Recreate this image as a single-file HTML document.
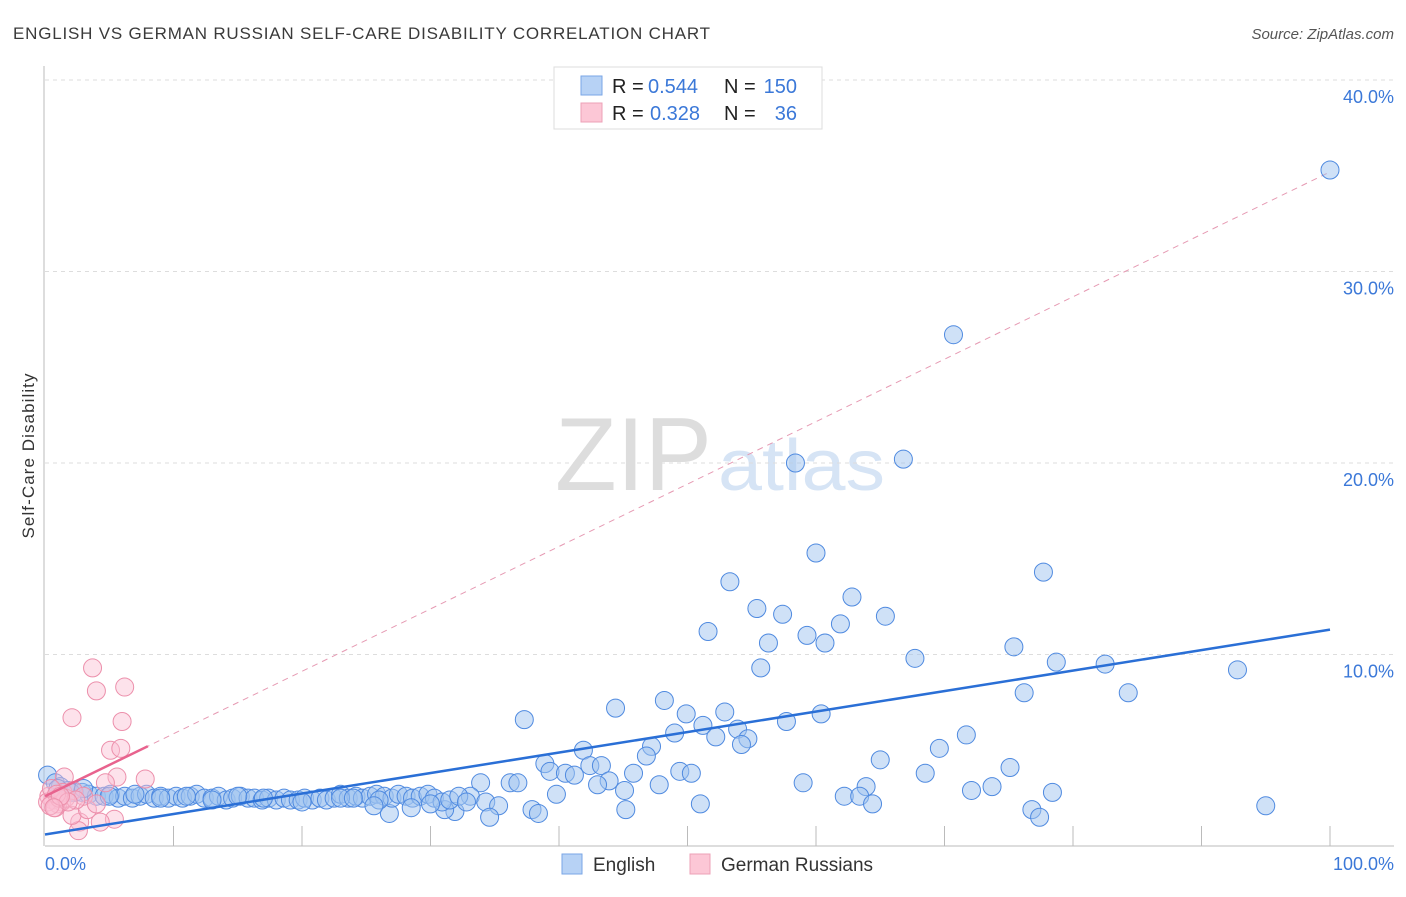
<!DOCTYPE html>
<html><head><meta charset="utf-8"><style>
body{margin:0;background:#fff;font-family:"Liberation Sans",sans-serif}
svg text{font-family:"Liberation Sans",sans-serif}
</style></head><body>
<svg id="chart" width="1406" height="892" xmlns="http://www.w3.org/2000/svg">
<text x="13" y="39" font-size="17" fill="#3a3a3a" textLength="697" lengthAdjust="spacing">ENGLISH VS GERMAN RUSSIAN SELF-CARE DISABILITY CORRELATION CHART</text>
<text x="1394" y="39" font-size="15" fill="#555" text-anchor="end" font-style="italic">Source: ZipAtlas.com</text>
<text x="555" y="490" font-size="104" fill="#ddd" font-family="Liberation Serif" textLength="157" lengthAdjust="spacingAndGlyphs">ZIP</text>
<text x="718" y="490" font-size="72" fill="#d6e4f5" textLength="167" lengthAdjust="spacingAndGlyphs">atlas</text>
<g id="grid"></g>
<g id="axes"></g>
<g id="lines"></g>
<g id="pts"></g>
<text transform="translate(34,456) rotate(-90)" font-size="17" fill="#333" text-anchor="middle" textLength="165">Self-Care Disability</text>
<text x="45" y="870" font-size="18" fill="#3b78d8">0.0%</text>
<text x="1394" y="870" font-size="18" fill="#3b78d8" text-anchor="end">100.0%</text>
<g>
<rect x="554" y="67" width="268" height="62" fill="#fff" stroke="#ddd"/>
<rect x="581" y="76" width="21" height="19" fill="#b7d2f5" stroke="#7aa6e6"/>
<rect x="581" y="103" width="21" height="19" fill="#fcc7d6" stroke="#eda0b7"/>
<text x="612" y="93" font-size="20" fill="#222">R =</text>
<text x="648" y="93" font-size="20" fill="#3b78d8">0.544</text>
<text x="724" y="93" font-size="20" fill="#222">N =</text>
<text x="797" y="93" font-size="20" fill="#3b78d8" text-anchor="end">150</text>
<text x="612" y="120" font-size="20" fill="#222">R =</text>
<text x="650" y="120" font-size="20" fill="#3b78d8">0.328</text>
<text x="724" y="120" font-size="20" fill="#222">N =</text>
<text x="797" y="120" font-size="20" fill="#3b78d8" text-anchor="end">36</text>
</g>
<g>
<rect x="562" y="854" width="20" height="20" fill="#b7d2f5" stroke="#7aa6e6"/>
<text x="593" y="871" font-size="19" fill="#333">English</text>
<rect x="690" y="854" width="20" height="20" fill="#fcc7d6" stroke="#eda0b7"/>
<text x="721" y="871" font-size="19" fill="#333">German Russians</text>
</g>
</svg>
<script>
const yTicks=[10,20,30,40];
const yTickLabels=["10.0%","20.0%","30.0%","40.0%"];
const xTicks=[10,20,30,40,50,60,70,80,90,100];
const englishX=[100,70.7,58.4,66.8,60,77.7,53.3,62.8,55.4,57.4,65.4,61.9,51.6,59.3,56.3,60.7,75.4,67.7,78.7,82.5,55.7,92.8,76.2,84.3,48.2,44.4,49.9,52.9,37.3,60.4,51.2,57.7,49,53.9,52.2,71.7,54.7,54.2,47.2,69.6,41.9,46.8,65,38.9,42.4,43.3,39.3,40.5,41.2,45.8,49.4,50.3,68.5,75.1,43.9,33.9,36.2,36.8,43,47.8,59,63.9,45.1,73.7,72.1,78.4,39.8,62.2,63.4,33.1,64.4,51,95,34.3,35.3,37.9,38.4,45.2,76.8,77.4,34.6,26.8,31.9,31.1,
0.2,0.8,1.2,1.8,2.3,2.9,3.4,4,4.6,5.1,5.7,6.2,6.8,7.4,7.9,8.5,9,9.6,10.2,10.7,11.3,11.8,12.4,13,13.5,14.1,14.6,15.2,15.8,16.3,16.9,17.4,18,18.6,19.1,19.7,20.2,20.8,21.4,21.9,22.5,23,23.6,24.2,24.7,25.3,25.8,26.4,27,27.5,28.1,28.6,29.2,29.8,30.3,30.9,31.5,32.2,32.8,1,2,3,5,7,9,11,13,15,17,20,23,26,28.5,30,24,25.6];
const englishY=[35.3,26.7,20,20.2,15.3,14.3,13.8,13,12.4,12.1,12,11.6,11.2,11,10.6,10.6,10.4,9.8,9.6,9.5,9.3,9.2,8,8,7.6,7.2,6.9,7,6.6,6.9,6.3,6.5,5.9,6.1,5.7,5.8,5.6,5.3,5.2,5.1,5,4.7,4.5,4.3,4.2,4.2,3.9,3.8,3.7,3.8,3.9,3.8,3.8,4.1,3.4,3.3,3.3,3.3,3.2,3.2,3.3,3.1,2.9,3.1,2.9,2.8,2.7,2.6,2.6,2.6,2.2,2.2,2.1,2.3,2.1,1.9,1.7,1.9,1.9,1.5,1.5,1.7,1.8,1.9,
3.7,3.3,3.1,2.9,2.8,2.8,2.7,2.6,2.6,2.7,2.5,2.6,2.5,2.6,2.7,2.5,2.6,2.5,2.6,2.5,2.6,2.7,2.5,2.5,2.6,2.4,2.5,2.6,2.5,2.5,2.4,2.5,2.4,2.5,2.4,2.4,2.5,2.4,2.5,2.4,2.5,2.7,2.5,2.6,2.5,2.6,2.7,2.6,2.5,2.7,2.6,2.5,2.6,2.7,2.5,2.3,2.4,2.6,2.3,3,2.8,3,2.6,2.7,2.5,2.6,2.4,2.6,2.5,2.3,2.5,2.4,2,2.2,2.5,2.1];
const germanX=[3.7,4.0,6.2,2.1,6.0,5.1,5.9,7.8,5.6,1.5,4.7,2.7,2.6,5.4,4.3,2.1,1.3,3.3,0.3,0.6,1,1.4,0.2,0.8,1.6,2.2,0.5,1.1,3,4,2.4,0.9,1.8,0.4,1.2,0.7];
const germanY=[9.3,8.1,8.3,6.7,6.5,5.0,5.1,3.5,3.6,3.6,3.3,1.25,0.8,1.4,1.25,1.6,2.3,1.9,2.6,2.4,2.2,2.8,2.3,2.0,2.5,2.9,3.0,2.5,2.6,2.2,2.4,2.7,2.3,2.1,2.6,2.0];
const englishTrend=[0.6,11.3];
const germanTrend=[2.6,35.2];

const X=v=>45+v*12.85, Y=v=>846-v*19.15;
const NS="http://www.w3.org/2000/svg";
function mk(tag,parent,attrs){const e=document.createElementNS(NS,tag);for(const k in attrs)e.setAttribute(k,attrs[k]);parent.appendChild(e);return e;}
const grid=document.getElementById('grid'),axes=document.getElementById('axes'),lines=document.getElementById('lines'),pts=document.getElementById('pts'),svg=document.getElementById('chart');
yTicks.forEach((t,i)=>{
 const l=mk('line',grid,{x1:45,x2:1394,y1:Y(t),y2:Y(t),stroke:'#ddd','stroke-dasharray':'4,4'});
 
 
 const tx=mk('text',grid,{x:1394,y:Y(t)+23,'font-size':18,fill:'#3b78d8','text-anchor':'end'});
 tx.textContent=yTickLabels[i];
 
 
});
const ax=mk('line',axes,{x1:45,x2:1394,y1:846,y2:846,stroke:'#bbb'});


const ay=mk('line',axes,{x1:44,x2:44,y1:66,y2:846,stroke:'#bbb'});


xTicks.forEach(t=>{
 const l=mk('line',axes,{x1:X(t),x2:X(t),y1:826,y2:846,stroke:'#bbb'});
 
 
});
englishX.forEach((x,i)=>{
 const c=mk('circle',pts,{cx:X(x),cy:Y(englishY[i]),r:9,fill:'rgba(160,196,240,0.5)',stroke:'#4f8ae0','stroke-width':1});
 
 
});
germanX.forEach((x,i)=>{
 const c=mk('circle',pts,{cx:X(x),cy:Y(germanY[i]),r:9,fill:'rgba(250,190,210,0.45)',stroke:'#ec8fab','stroke-width':1});
 
 
});
const gd=mk('line',lines,{x1:X(0),y1:Y(germanTrend[0]),x2:X(100),y2:Y(germanTrend[1]),stroke:'#e69ab3','stroke-dasharray':'6,5','stroke-width':1});


const gs=mk('line',svg,{x1:X(0),y1:Y(germanTrend[0]),x2:X(8),y2:Y(germanTrend[0]+(germanTrend[1]-germanTrend[0])*0.08),stroke:'#e8638e','stroke-width':2.5});


const bt=mk('line',svg,{x1:X(0),y1:Y(englishTrend[0]),x2:X(100),y2:Y(englishTrend[1]),stroke:'#2a6fd6','stroke-width':2.5});


</script>
</body></html>
